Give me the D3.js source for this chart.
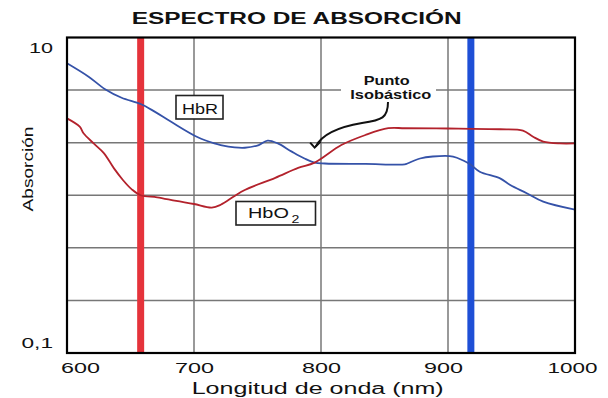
<!DOCTYPE html>
<html>
<head>
<meta charset="utf-8">
<script src="https://cdn.jsdelivr.net/npm/d3@7"></script>
<style>
  html, body { margin: 0; padding: 0; background: #fff; }
  svg { display: block; }
  text { font-family: "Liberation Sans", Arial, Helvetica, sans-serif; fill: #111; }
</style>
</head>
<body>
<svg id="chart" width="608" height="398"></svg>
<script>
// ---- data ----
const wavelengthsHbR = [600, 617, 630, 643, 658, 669, 682, 703, 716, 721, 732, 740, 751, 758, 766, 777, 787, 795, 803, 835, 866, 868, 878, 888, 904, 912, 918, 925, 941, 949, 962, 975, 1000];
const absorptionHbR  = [6.86, 5.64, 4.70, 4.15, 3.79, 3.39, 2.92, 2.33, 2.13, 2.08, 2.01, 2.00, 2.08, 2.22, 2.13, 1.89, 1.71, 1.61, 1.59, 1.58, 1.57, 1.59, 1.71, 1.76, 1.76, 1.66, 1.56, 1.41, 1.28, 1.16, 1.03, 0.91, 0.81];

const wavelengthsHbO2 = [600, 610, 613, 621, 629, 637, 644, 651, 658, 671, 686, 700, 714, 721, 732, 740, 764, 782, 795, 816, 835, 853, 866, 900, 941, 959, 967, 975, 988, 1000];
const absorptionHbO2  = [3.07, 2.72, 2.47, 2.13, 1.85, 1.48, 1.25, 1.09, 1.00, 0.97, 0.92, 0.88, 0.835, 0.87, 0.99, 1.08, 1.29, 1.49, 1.61, 2.08, 2.41, 2.66, 2.66, 2.65, 2.62, 2.57, 2.35, 2.19, 2.13, 2.13];

const xTickValues = [600, 700, 800, 900, 1000];
const xTickLabels = ["600", "700", "800", "900", "1000"];
const yTickValues = [10, 0.1];
const yTickLabels = ["10", "0,1"];
const xGridValues = [700, 800, 900];
const yGridValues = [4.642, 2.154, 1, 0.4642, 0.2154];
const ledWavelengths = [658, 918];
const ledColors = ["#e5333b", "#1e4fd6"];
const isobesticPoint = { wl: 795, abs: 1.61 };

// ---- layout ----
const svg = d3.select("#chart");
const pL = 67, pR = 575, pT = 37.5, pB = 353;
const x = d3.scaleLinear().domain([600, 1000]).range([pL, pR]);
const y = d3.scaleLog().domain([0.1, 10]).range([pB, pT]);

svg.append("rect").attr("width", 608).attr("height", 398).attr("fill", "#fff");

// grid
svg.append("g").selectAll("line").data(xGridValues).join("line")
  .attr("x1", d => x(d)).attr("x2", d => x(d))
  .attr("y1", pT).attr("y2", pB)
  .attr("stroke", "#777").attr("stroke-width", 1.5);
svg.append("g").selectAll("line").data(yGridValues).join("line")
  .attr("x1", pL).attr("x2", pR)
  .attr("y1", d => y(d)).attr("y2", d => y(d))
  .attr("stroke", "#777").attr("stroke-width", 1.5);

// LED wavelength bars
svg.append("g").selectAll("line").data(ledWavelengths).join("line")
  .attr("x1", d => x(d)).attr("x2", d => x(d))
  .attr("y1", pT).attr("y2", pB)
  .attr("stroke", (d, i) => ledColors[i]).attr("stroke-width", 7);

// annotation "Punto Isobástico"
svg.append("rect").attr("x", 341).attr("y", 70).attr("width", 95).attr("height", 32).attr("fill", "#fff");
svg.append("text").attr("x", 386.7).attr("y", 85).attr("text-anchor", "middle")
  .attr("font-size", 12.5).attr("font-weight", "bold")
  .attr("textLength", 46).attr("lengthAdjust", "spacingAndGlyphs").text("Punto");
svg.append("text").attr("x", 390.8).attr("y", 98.5).attr("text-anchor", "middle")
  .attr("font-size", 12.5).attr("font-weight", "bold")
  .attr("textLength", 81).attr("lengthAdjust", "spacingAndGlyphs").text("Isobástico");

// curves
const clip = svg.append("clipPath").attr("id", "plotclip");
clip.append("rect").attr("x", pL).attr("y", pT).attr("width", pR - pL).attr("height", pB - pT);
const line = d3.line().x(d => x(d[0])).y(d => y(d[1])).curve(d3.curveCatmullRom.alpha(0.5));
const hbr = wavelengthsHbR.map((w, i) => [w, absorptionHbR[i]]);
const hbo2 = wavelengthsHbO2.map((w, i) => [w, absorptionHbO2[i]]);
const curves = svg.append("g").attr("clip-path", "url(#plotclip)");
curves.append("path").attr("d", line(hbr)).attr("fill", "none")
  .attr("stroke", "#3552a8").attr("stroke-width", 1.8);
curves.append("path").attr("d", line(hbo2)).attr("fill", "none")
  .attr("stroke", "#b3222c").attr("stroke-width", 1.8);

// arrow to isosbestic point
const tipX = x(isobesticPoint.wl), tipY = y(isobesticPoint.abs) - 15;
svg.append("path")
  .attr("d", `M388,102 C388,118 382,120 362,123 C338,127 322,134 ${tipX + 1},${tipY - 1}`)
  .attr("fill", "none").attr("stroke", "#111").attr("stroke-width", 2);
svg.append("path")
  .attr("d", `M${tipX - 4.5},${tipY - 5} L${tipX},${tipY} L${tipX + 6},${tipY - 6}`)
  .attr("fill", "none").attr("stroke", "#111").attr("stroke-width", 2);

// labels HbR / HbO2
svg.append("rect").attr("x", 176).attr("y", 95.5).attr("width", 47).attr("height", 23.5)
  .attr("fill", "#fff").attr("stroke", "#222").attr("stroke-width", 1.6);
svg.append("text").attr("x", 200).attr("y", 114).attr("text-anchor", "middle")
  .attr("font-size", 15).attr("textLength", 36).attr("lengthAdjust", "spacingAndGlyphs").text("HbR");
svg.append("rect").attr("x", 236).attr("y", 201.5).attr("width", 79.5).attr("height", 23.5)
  .attr("fill", "#fff").attr("stroke", "#222").attr("stroke-width", 1.6);
const hbo2Text = svg.append("text").attr("transform", "translate(248,217.5) scale(1.42,1)")
  .attr("font-size", 14);
hbo2Text.append("tspan").text("HbO");
hbo2Text.append("tspan").attr("dx", 1.8).attr("dy", 5.2).attr("font-size", 10).text("2");

// x axis
const xAxis = d3.axisBottom(x).tickValues(xTickValues)
  .tickFormat((d, i) => xTickLabels[i]).tickSize(0).tickPadding(0);
const gx = svg.append("g").attr("transform", `translate(0,${pB})`).call(xAxis);
gx.select(".domain").remove();
gx.selectAll("text")
  .attr("font-size", 15).attr("fill", "#111")
  .attr("font-family", "'Liberation Sans', Arial, sans-serif")
  .attr("dy", null).attr("y", 19.7)
  .attr("textLength", (d, i) => xTickLabels[i].length === 4 ? 50 : 39)
  .attr("lengthAdjust", "spacingAndGlyphs")
  .attr("dx", (d, i) => i === 0 ? 13 : (i === 3 ? -5 : (i === 4 ? -3 : 0)));

// y axis
const yAxis = d3.axisLeft(y).tickValues(yTickValues)
  .tickFormat((d, i) => yTickLabels[i]).tickSize(0).tickPadding(0);
const gy = svg.append("g").attr("transform", `translate(${pL - 14},0)`).call(yAxis);
gy.select(".domain").remove();
gy.selectAll("text")
  .attr("font-size", 15).attr("fill", "#111")
  .attr("font-family", "'Liberation Sans', Arial, sans-serif")
  .attr("dy", (d, i) => i === 0 ? 15 : -5.5)
  .attr("textLength", (d, i) => i === 0 ? 24 : 31.5)
  .attr("lengthAdjust", "spacingAndGlyphs");

// axis titles
svg.append("text").attr("x", 191.7).attr("y", 394).attr("font-size", 16)
  .attr("textLength", 252).attr("lengthAdjust", "spacingAndGlyphs").text("Longitud de onda (nm)");
svg.append("text").attr("transform", "translate(33,169) rotate(-90)").attr("text-anchor", "middle")
  .attr("font-size", 14).attr("textLength", 85).attr("lengthAdjust", "spacingAndGlyphs").text("Absorción");

// title
svg.append("text").attr("x", 296.7).attr("y", 24).attr("text-anchor", "middle")
  .attr("font-size", 16).attr("font-weight", "bold")
  .attr("textLength", 330).attr("lengthAdjust", "spacingAndGlyphs").text("ESPECTRO DE ABSORCIÓN");

// plot frame
svg.append("rect").attr("x", pL).attr("y", pT).attr("width", pR - pL).attr("height", pB - pT)
  .attr("fill", "none").attr("stroke", "#000").attr("stroke-width", 2.2);
</script>
</body>
</html>
